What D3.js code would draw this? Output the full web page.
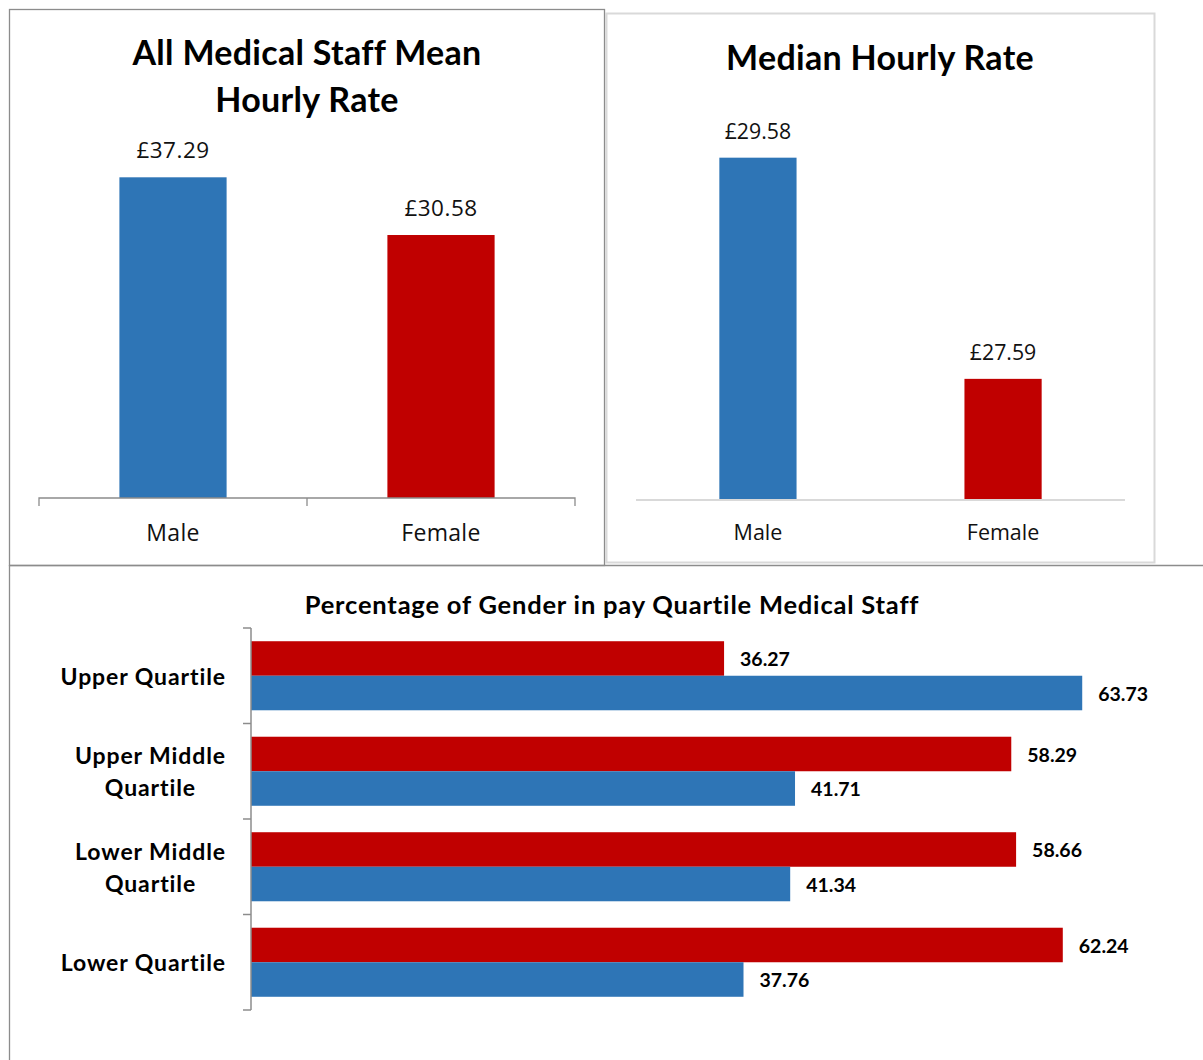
<!DOCTYPE html>
<html>
<head>
<meta charset="utf-8">
<script src="https://cdn.jsdelivr.net/npm/d3@7"></script>
<style>
  body { margin: 0; background: #fff; }
  svg text { font-family: "Open Sans", Lato, sans-serif; }
  .ttl { font-family: Lato, "Open Sans", sans-serif; font-weight: bold; }
</style>
</head>
<body>
<svg id="chart" width="1203" height="1060"></svg>
<script>
// data
var genders = ["Male", "Female"];
var meanRate = [37.29, 30.58];
var medianRate = [29.58, 27.59];

var quartiles = ["Upper Quartile", "Upper Middle Quartile", "Lower Middle Quartile", "Lower Quartile"];
var femalePct = [36.27, 58.29, 58.66, 62.24];
var malePct = [63.73, 41.71, 41.34, 37.76];

var BLUE = "#2e75b6", RED = "#c00000";

var svg = d3.select("#chart");

// frames
svg.append("rect").attr("x", 606.5).attr("y", 13.5).attr("width", 548).attr("height", 549)
  .attr("fill", "none").attr("stroke", "#d9d9d9").attr("stroke-width", 2);
svg.append("rect").attr("x", 9.5).attr("y", 9.5).attr("width", 595).attr("height", 556)
  .attr("fill", "none").attr("stroke", "#8c8c8c").attr("stroke-width", 1.3);
svg.append("line").attr("x1", 9.5).attr("x2", 1203).attr("y1", 565.5).attr("y2", 565.5)
  .attr("stroke", "#8c8c8c").attr("stroke-width", 1.5);
svg.append("line").attr("x1", 9.5).attr("x2", 9.5).attr("y1", 565).attr("y2", 1060)
  .attr("stroke", "#8c8c8c").attr("stroke-width", 1.3);

// ---- mean chart
var g1 = svg.append("g");
var x1 = d3.scaleBand().domain(genders).range([39, 575]).paddingInner(0.6).paddingOuter(0.3);
var y1 = d3.scaleLinear().domain([0, 40]).range([498, 154]);

g1.append("text").attr("class", "ttl").attr("x", 307).attr("y", 65)
  .attr("text-anchor", "middle").attr("font-size", 34).attr("letter-spacing", 0.3).text("All Medical Staff Mean");
g1.append("text").attr("class", "ttl").attr("x", 307).attr("y", 112)
  .attr("text-anchor", "middle").attr("font-size", 34).attr("letter-spacing", 0.3).text("Hourly Rate");

g1.selectAll(".bar").data(meanRate).enter().append("rect")
  .attr("x", function(d, i) { return x1(genders[i]); })
  .attr("y", function(d) { return y1(d); })
  .attr("width", x1.bandwidth())
  .attr("height", function(d) { return y1(0) - y1(d); })
  .attr("fill", function(d, i) { return i == 0 ? BLUE : RED; });

g1.selectAll(".val").data(meanRate).enter().append("text")
  .attr("x", function(d, i) { return x1(genders[i]) + x1.bandwidth() / 2; })
  .attr("y", function(d) { return y1(d) - 19; })
  .attr("text-anchor", "middle").attr("font-size", 22.5).attr("letter-spacing", 0.5).attr("fill", "#111")
  .text(function(d) { return "£" + d.toFixed(2); });

var ax1 = g1.append("g").attr("transform", "translate(0,498)")
  .call(d3.axisBottom(x1).tickSize(0).tickPadding(27));
ax1.select(".domain").attr("stroke", "#8c8c8c").attr("stroke-width", 1.3)
  .attr("d", "M39,8V0H575V8");
ax1.selectAll(".tick text").attr("font-size", 23).attr("letter-spacing", 0.3).attr("fill", "#111")
  .style("font-family", "'Open Sans', sans-serif");
ax1.append("line").attr("x1", 307).attr("x2", 307).attr("y1", 0).attr("y2", 8)
  .attr("stroke", "#8c8c8c").attr("stroke-width", 1.3);

// ---- median chart
var g2 = svg.append("g");
var x2 = d3.scaleBand().domain(genders).range([636, 1125]).paddingInner(0.685).paddingOuter(0.34);
var y2 = d3.scaleLinear().domain([26.5, 30]).range([500, 111]);

g2.append("text").attr("class", "ttl").attr("x", 880).attr("y", 70)
  .attr("text-anchor", "middle").attr("font-size", 34).attr("letter-spacing", 0.3).text("Median Hourly Rate");

g2.selectAll(".bar").data(medianRate).enter().append("rect")
  .attr("x", function(d, i) { return x2(genders[i]); })
  .attr("y", function(d) { return y2(d); })
  .attr("width", x2.bandwidth())
  .attr("height", function(d) { return y2(26.5) - y2(d); })
  .attr("fill", function(d, i) { return i == 0 ? BLUE : RED; });

g2.selectAll(".val").data(medianRate).enter().append("text")
  .attr("x", function(d, i) { return x2(genders[i]) + x2.bandwidth() / 2; })
  .attr("y", function(d) { return y2(d) - 19; })
  .attr("text-anchor", "middle").attr("font-size", 21.3).attr("fill", "#111")
  .text(function(d) { return "£" + d.toFixed(2); });

var ax2 = g2.append("g").attr("transform", "translate(0,500)")
  .call(d3.axisBottom(x2).tickSize(0).tickPadding(25));
ax2.select(".domain").attr("stroke", "#d9d9d9").attr("stroke-width", 2)
  .attr("d", "M636,0H1125");
ax2.selectAll(".tick text").attr("font-size", 21.5).attr("fill", "#111")
  .style("font-family", "'Open Sans', sans-serif");

// ---- quartile chart
var g3 = svg.append("g");
g3.append("text").attr("class", "ttl").attr("x", 612).attr("y", 614)
  .attr("text-anchor", "middle").attr("font-size", 25.5).attr("letter-spacing", 0.8)
  .text("Percentage of Gender in pay Quartile Medical Staff");

var y3 = d3.scaleBand().domain(quartiles).range([628, 1010]).paddingInner(0.277).paddingOuter(0.1385);
var x3 = d3.scaleLinear().domain([0, 70]).range([251, 1164]);
var half = y3.bandwidth() / 2;

var rows = g3.selectAll(".row").data(quartiles).enter().append("g")
  .attr("transform", function(d) { return "translate(0," + y3(d) + ")"; });

rows.append("rect").attr("x", x3(0)).attr("y", 0)
  .attr("width", function(d, i) { return x3(femalePct[i]) - x3(0); })
  .attr("height", half).attr("fill", RED);
rows.append("rect").attr("x", x3(0)).attr("y", half)
  .attr("width", function(d, i) { return x3(malePct[i]) - x3(0); })
  .attr("height", half).attr("fill", BLUE);

rows.append("text").attr("x", function(d, i) { return x3(femalePct[i]) + 16; })
  .attr("y", half / 2 + 1).attr("dy", "0.35em").attr("font-size", 19.5)
  .attr("class", "ttl").text(function(d, i) { return femalePct[i].toFixed(2); });
rows.append("text").attr("x", function(d, i) { return x3(malePct[i]) + 16; })
  .attr("y", half * 1.5 + 1).attr("dy", "0.35em").attr("font-size", 19.5)
  .attr("class", "ttl").text(function(d, i) { return malePct[i].toFixed(2); });

// category axis
var ax3 = g3.append("g").attr("transform", "translate(251,0)");
ax3.append("line").attr("x1", 0).attr("x2", 0).attr("y1", 628).attr("y2", 1010)
  .attr("stroke", "#8c8c8c").attr("stroke-width", 1.5);
var step = y3.step();
ax3.selectAll(".tk").data(d3.range(quartiles.length + 1)).enter().append("line")
  .attr("x1", -8).attr("x2", 0)
  .attr("y1", function(d) { return 628 + d * step; })
  .attr("y2", function(d) { return 628 + d * step; })
  .attr("stroke", "#8c8c8c").attr("stroke-width", 1.5);

var wrapped = {"Upper Middle Quartile": ["Upper Middle", "Quartile"], "Lower Middle Quartile": ["Lower Middle", "Quartile"]};
quartiles.forEach(function(q) {
  var lines = wrapped[q] || [q];
  var cy = y3(q) + y3.bandwidth() / 2 + 1;
  var t = g3.append("text").attr("class", "ttl").attr("font-size", 23).attr("letter-spacing", 0.9)
    .attr("text-anchor", "middle");
  lines.forEach(function(l, i) {
    t.append("tspan").attr("x", 0).attr("y", cy + (i - (lines.length - 1) / 2) * 32).attr("dy", "0.35em").text(l);
  });
  var w = t.node().getBBox().width;
  t.selectAll("tspan").attr("x", 226 - w / 2);
});
</script>
</body>
</html>
